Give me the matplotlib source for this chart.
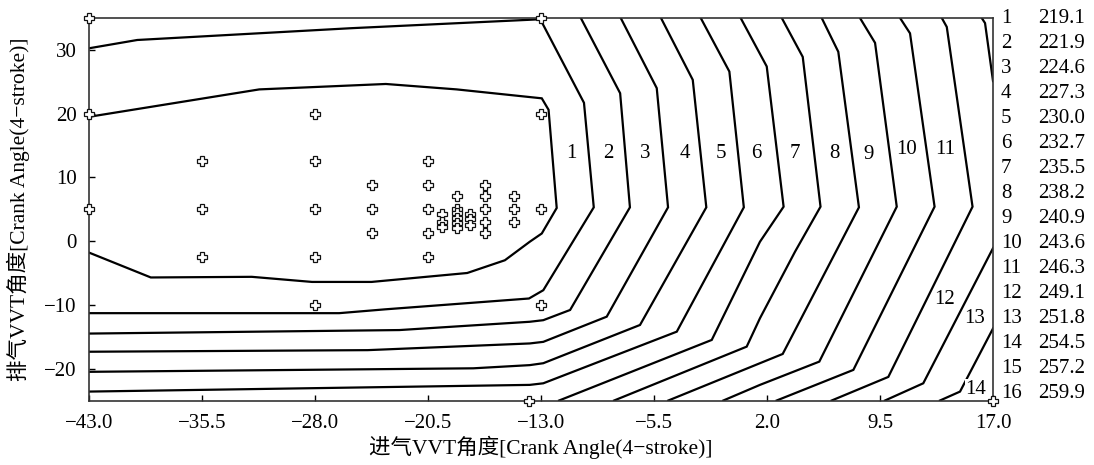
import matplotlib
matplotlib.use("Agg")
import matplotlib.pyplot as plt

plt.rcParams['font.family'] = ['Liberation Serif', 'Noto Sans CJK SC', 'DejaVu Sans']
plt.rcParams['font.size'] = 15
plt.rcParams['axes.unicode_minus'] = True

# contour levels (label number -> value)
level_ids = list(range(1, 17))
level_vals = [219.1, 221.9, 224.6, 227.3, 230.0, 232.7, 235.5, 238.2,
              240.9, 243.6, 246.3, 249.1, 251.8, 254.5, 257.2, 259.9]

# contour lines, (intake, exhaust) pairs
c01 = [(-43, 19.5), (-31.7, 23.8), (-23.3, 24.65), (-18.6, 23.8), (-12.95, 22.4),
       (-12.5, 20.6), (-11.96, 5.2), (-12.95, 1.2), (-13.75, -0.1), (-15.4, -3.0),
       (-17.9, -5.0), (-24.25, -6.4), (-28.2, -6.4), (-32.2, -5.6), (-38.9, -5.7),
       (-43, -1.8)]
c02 = [(-43, 30.25), (-39.8, 31.55), (-25.6, 33.4), (-13.05, 34.8), (-10.15, 21.7),
       (-9.5, 5.3), (-12.85, -7.7), (-13.8, -9.0), (-23.35, -10.7), (-26.4, -11.3),
       (-43, -11.3)]
c03 = [(-10.36, 35), (-7.75, 23.2), (-7.1, 5.3), (-11.07, -10.8), (-12.85, -12.4),
       (-13.75, -12.65), (-22.4, -13.95), (-43, -14.5)]
c04 = [(-7.71, 35), (-5.32, 24.0), (-4.57, 5.3), (-8.64, -11.85), (-12.85, -15.8),
       (-13.75, -16.05), (-24.5, -17.1), (-43, -17.35)]
c05 = [(-5.04, 35), (-2.93, 25.3), (-2.03, 5.3), (-6.43, -13.15), (-12.85, -19.15),
       (-13.75, -19.45), (-17.5, -19.95), (-43, -20.5)]
c06 = [(-2.4, 35), (-0.5, 26.6), (0.46, 5.3), (-3.99, -14.2), (-12.85, -22.3),
       (-13.75, -22.55), (-43, -23.6)]
c07 = [(0.25, 35), (1.98, 27.4), (3.1, 5.4), (1.53, -0.1), (-1.67, -15.5), (-11.8, -25)]
c08 = [(2.98, 35), (4.37, 28.9), (5.55, 5.4), (3.86, -1.65), (1.53, -12.1),
       (0.65, -16.55), (-8.15, -25)]
c09 = [(5.63, 35), (6.73, 29.7), (8.1, 5.3), (3.04, -17.7), (1.53, -19.15), (-4.55, -25)]
c10 = [(8.17, 35), (9.17, 31.1), (10.61, 5.4), (5.47, -18.9), (1.53, -22.55), (-0.9, -25)]
c11 = [(10.83, 35), (11.49, 32.6), (13.12, 5.4), (7.73, -20.2), (2.64, -25)]
c12 = [(13.6, 35), (13.93, 33.6), (15.64, 5.4), (10.05, -21.3), (6.29, -25)]
c13a = [(16.25, 35), (16.47, 34.2), (17.0, 25.1)]
c13b = [(17.0, -1.1), (12.37, -22.3), (9.83, -25)]
c14 = [(17.0, -13.7), (14.81, -23.6), (13.48, -25)]

# contour label positions
lab_ids = ["1", "2", "3", "4", "5", "6", "7", "8", "9", "10", "11", "12", "13", "14"]
lab_x = [-10.96, -8.53, -6.1, -3.44, -1.07, 1.31, 3.86, 6.45, 8.72, 11.27, 13.82,
         13.77, 15.76, 15.87]
lab_y = [13.8, 13.8, 13.8, 13.8, 13.8, 13.8, 13.8, 13.8, 13.6, 14.4, 14.3,
         -9.1, -12.2, -23.2]

# measured operating points
pt_x = [-43, -13,
        -43, -28, -13,
        -35.5, -28, -20.5,
        -24.25, -20.5, -16.75,
        -18.6, -16.75, -14.8,
        -43, -35.5, -28, -24.25, -20.5, -18.6, -16.75, -14.8, -13,
        -19.6, -19.6, -19.6,
        -18.6, -18.6, -18.6, -18.6,
        -17.7, -17.7, -17.7,
        -16.75, -16.75, -14.8,
        -24.25, -20.5,
        -35.5, -28, -20.5,
        -28, -13,
        -13.8, 17]
pt_y = [35, 35,
        20, 20, 20,
        12.5, 12.5, 12.5,
        8.75, 8.75, 8.75,
        7, 7, 7,
        5, 5, 5, 5, 5, 5, 5, 5, 5,
        4.2, 3.0, 2.2,
        4.45, 3.7, 2.9, 2.1,
        4.2, 3.4, 2.6,
        3.0, 1.2, 3.0,
        1.25, 1.25,
        -2.5, -2.5, -2.5,
        -10, -10,
        -25, -25]

x_ticks = [-43.0, -35.5, -28.0, -20.5, -13.0, -5.5, 2.0, 9.5, 17.0]
y_ticks = [-20, -10, 0, 10, 20, 30]

fig = plt.figure(figsize=(10.94, 4.65), dpi=100)
ax = fig.add_axes([0.0814, 0.1387, 0.8263, 0.8226])

for line in [c01, c02, c03, c04, c05, c06, c07, c08, c09, c10, c11, c12, c13a, c13b, c14]:
    xs = [p[0] for p in line]
    ys = [p[1] for p in line]
    ax.plot(xs, ys, color="black", lw=1.6, solid_joinstyle="miter", zorder=2)

ax.plot(pt_x, pt_y, linestyle="none", marker="P", markersize=7,
        markerfacecolor="white", markeredgecolor="#111111", markeredgewidth=0.9,
        clip_on=False, zorder=4)

for i, t in enumerate(lab_ids):
    bg = dict(facecolor="white", edgecolor="none", pad=0.5) if i >= 11 else None
    ax.text(lab_x[i], lab_y[i], t, ha="center", va="center", fontsize=15,
            bbox=bg, zorder=3)

ax.set_xlim(-43, 17)
ax.set_ylim(-25, 35)
ax.set_xticks(x_ticks)
ax.set_xticklabels([f"{v:.1f}".replace("-", "\u2212") for v in x_ticks])
ax.set_yticks(y_ticks)
ax.tick_params(direction="in", length=4, width=1, labelsize=15)
ax.tick_params(axis="x", pad=10)
ax.tick_params(axis="y", pad=9)
for s in ax.spines.values():
    s.set_linewidth(1.2)
    s.set_color("#333333")

ax.set_xlabel("进气VVT角度[Crank Angle(4\u2212stroke)]", fontsize=15.5, labelpad=2)
ax.set_ylabel("排气VVT角度[Crank Angle(4\u2212stroke)]", fontsize=15.5, labelpad=10)

# legend column on the right
for k, (n, v) in enumerate(zip(level_ids, level_vals)):
    yy = 1 - (18.3 + 25.0 * k) / 465
    fig.text(1001 / 1094, yy, str(n), ha="left", va="center", fontsize=15)
    fig.text(1038 / 1094, yy, f"{v:.1f}", ha="left", va="center", fontsize=15)

fig.savefig("out.png", dpi=100)
